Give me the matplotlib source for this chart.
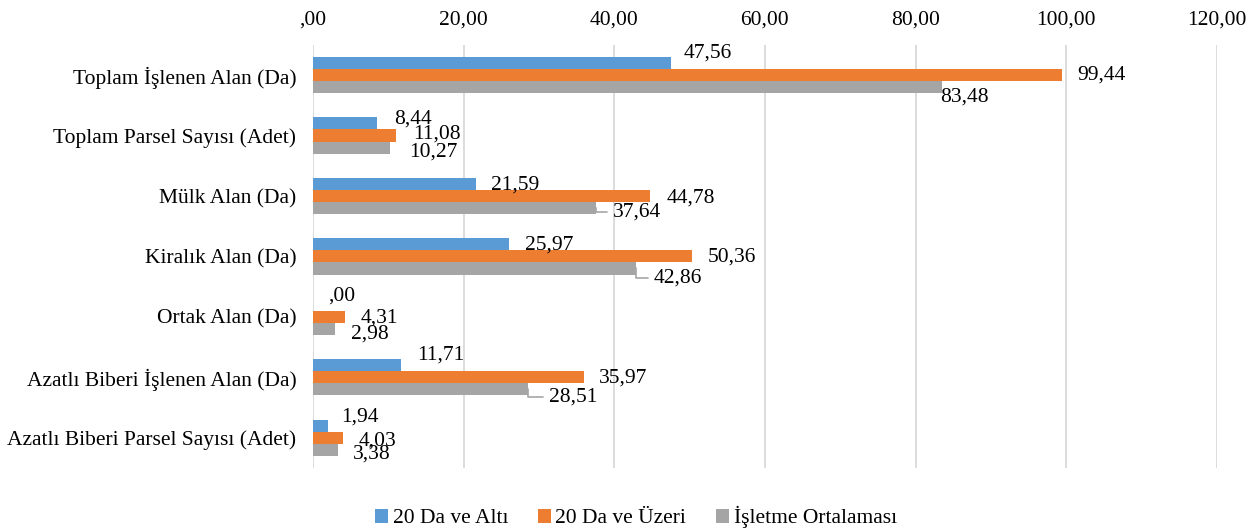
import matplotlib
matplotlib.use("Agg")
import matplotlib.pyplot as plt
import numpy as np

plt.rcParams['font.family'] = ['Liberation Serif', 'DejaVu Serif']

categories = ["Toplam İşlenen Alan (Da)", "Toplam Parsel Sayısı (Adet)", "Mülk Alan (Da)",
              "Kiralık Alan (Da)", "Ortak Alan (Da)", "Azatlı Biberi İşlenen Alan (Da)",
              "Azatlı Biberi Parsel Sayısı (Adet)"]
series_names = ["20 Da ve Altı", "20 Da ve Üzeri", "İşletme Ortalaması"]
alti = [47.56, 8.44, 21.59, 25.97, 0.00, 11.71, 1.94]
uzeri = [99.44, 11.08, 44.78, 50.36, 4.31, 35.97, 4.03]
ortalama = [83.48, 10.27, 37.64, 42.86, 2.98, 28.51, 3.38]
xticks = [0, 20, 40, 60, 80, 100, 120]
xtick_labels = [",00", "20,00", "40,00", "60,00", "80,00", "100,00", "120,00"]

colors = ["#5B9BD5", "#ED7D31", "#A5A5A5"]
series = [alti, uzeri, ortalama]

# label offsets in pixels (dx right, dy down) per series per category
offsets = [
    [(12, -10), (18, -4), (15, 1), (16, 1), (15, -9), (16, -10), (14, -9)],
    [(15, 0), (17, -1), (16, 2), (15, 1), (15, 1), (15, 1), (15, 3)],
    [(-2, 10), (19, 4), (16, 4), (18, 10), (16, 5), (21, 8), (14, 4)],
]
leaders = {(2, 2), (2, 3), (2, 5)}
FS = 15.5

def fmt(v):
    s = f"{v:.2f}".replace(".", ",")
    if s.startswith("0,"):
        s = s[1:]
    return s

fig = plt.figure(figsize=(12.57, 5.30), dpi=100)
ax = fig.add_axes([0.249, 0.117, 0.719, 0.7985])

y = np.arange(len(categories))
h = 0.2
for si, (vals, col) in enumerate(zip(series, colors)):
    pos = y + (si - 1) * h
    ax.barh(pos, vals, height=h, color=col, label=series_names[si], zorder=3)
    for ci, v in enumerate(vals):
        dx, dy = offsets[si][ci]
        kw = {}
        if (si, ci) in leaders:
            kw['arrowprops'] = dict(arrowstyle='-', color='#A5A5A5', lw=1.2,
                                    shrinkA=2, shrinkB=0, relpos=(0, 0.5),
                                    connectionstyle='angle,angleA=0,angleB=90,rad=0')
        ax.annotate(fmt(v), xy=(v, pos[ci]), xytext=(dx, -dy),
                    textcoords='offset pixels', ha='left', va='center',
                    fontsize=FS, color='black', zorder=4, **kw)

ax.set_ylim(len(categories) - 0.5, -0.5)
ax.set_xlim(0, 120)
ax.set_yticks(y)
ax.set_yticklabels(categories, fontsize=FS)
ax.set_xticks(xticks)
ax.set_xticklabels(xtick_labels, fontsize=FS)
ax.xaxis.tick_top()
ax.tick_params(axis='both', length=0)
ax.tick_params(axis='x', pad=11)
ax.tick_params(axis='y', pad=12)
for s in ax.spines.values():
    s.set_visible(False)
ax.grid(axis='x', color='#D9D9D9', lw=1.3, zorder=0)
ax.set_axisbelow(True)

leg = fig.legend(loc='center', bbox_to_anchor=(0.506, 0.024), ncol=3, frameon=False,
                 fontsize=FS, handlelength=0.6, handleheight=0.6, handletextpad=0.2,
                 columnspacing=1.4)

fig.savefig("out.png", dpi=100)
